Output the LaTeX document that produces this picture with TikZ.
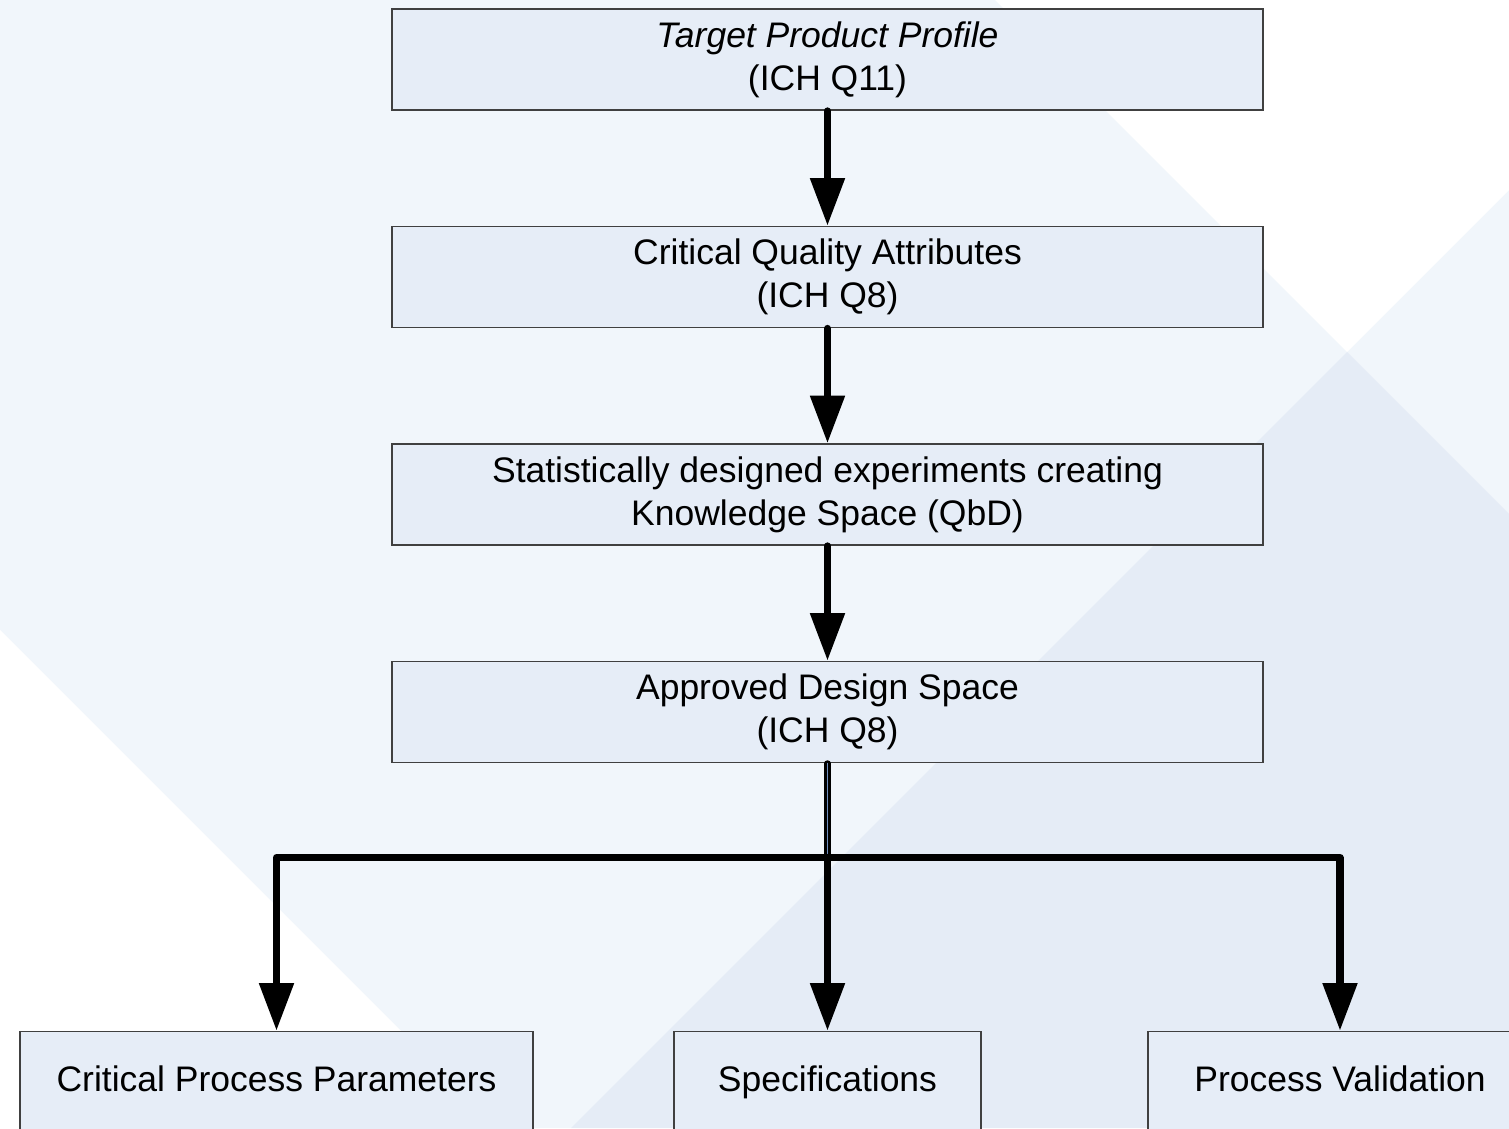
\documentclass[tikz,border=0pt]{standalone}
\usepackage{fontspec}
\setmainfont{Liberation Sans}
\usepackage{tikz}
\usetikzlibrary{arrows.meta}
\usepackage{xcolor}
\definecolor{bglight}{HTML}{F1F6FB}
\definecolor{bgdark}{HTML}{E5ECF6}
\definecolor{boxblue}{HTML}{E6EDF7}
\definecolor{trunkblue}{HTML}{6F8FC0}

\begin{document}
\begin{tikzpicture}[
    x=1cm,y=1cm,
    b/.style={rectangle,draw=black!75,line width=.5pt,fill=boxblue,align=center,minimum height=1.01cm,inner sep=0pt,font=\fontsize{10.1}{12.2}\selectfont},
    bl/.style={b,text height=7.3pt,text depth=2pt},
    e/.style={-{Triangle[length=13.5pt,width=9.5pt]},line width=2pt,line cap=round,line join=round,black},
    trunk/.style={line width=.7pt,double=trunkblue,double distance=.35pt,line cap=round,black}
  ]
    \useasboundingbox (0,0) rectangle (15.09,11.28);
    \clip (0,0) rectangle (15.09,11.28);
    \fill[bglight] (0,0) rectangle (15.09,11.28);
    \fill[white] (9.95,11.28) -- (13.47,7.76) -- (15.09,9.38) -- (15.09,11.28) -- cycle;
    \fill[bgdark] (13.47,7.76) -- (15.09,6.14) -- (15.09,0) -- (5.71,0) -- cycle;
    \fill[white] (0,4.98) -- (4.98,0) -- (0,0) -- cycle;

    \node[b,minimum width=8.71cm] (tpp) at (8.275,10.685) {\textit{Target Product Profile}\\(ICH Q11)};
    \node[b,minimum width=8.71cm] (cqa) at (8.275,8.51) {Critical Quality Attributes\\(ICH Q8)};
    \node[b,minimum width=8.71cm] (doe) at (8.275,6.335) {Statistically designed experiments creating\\Knowledge Space (QbD)};
    \node[b,minimum width=8.71cm] (ads) at (8.275,4.16) {Approved Design Space\\(ICH Q8)};
    \node[bl,minimum width=5.13cm] (cpp) at (2.765,.46) {Critical Process Parameters};
    \node[bl,minimum width=3.07cm] (spec) at (8.275,.46) {Specifications};
    \node[bl,minimum width=3.84cm] (pv) at (13.40,.46) {Process Validation};
    \coordinate (split) at (8.275,2.705);

    \draw[e] (tpp)--(cqa);
    \draw[e] (cqa)--(doe);
    \draw[e] (doe)--(ads);
    \draw[trunk] (ads)--(split);
    \draw[e] (split) -| (cpp);
    \draw[e] (split)--(spec);
    \draw[e] (split) -| (pv);
  \end{tikzpicture}
\end{document}
